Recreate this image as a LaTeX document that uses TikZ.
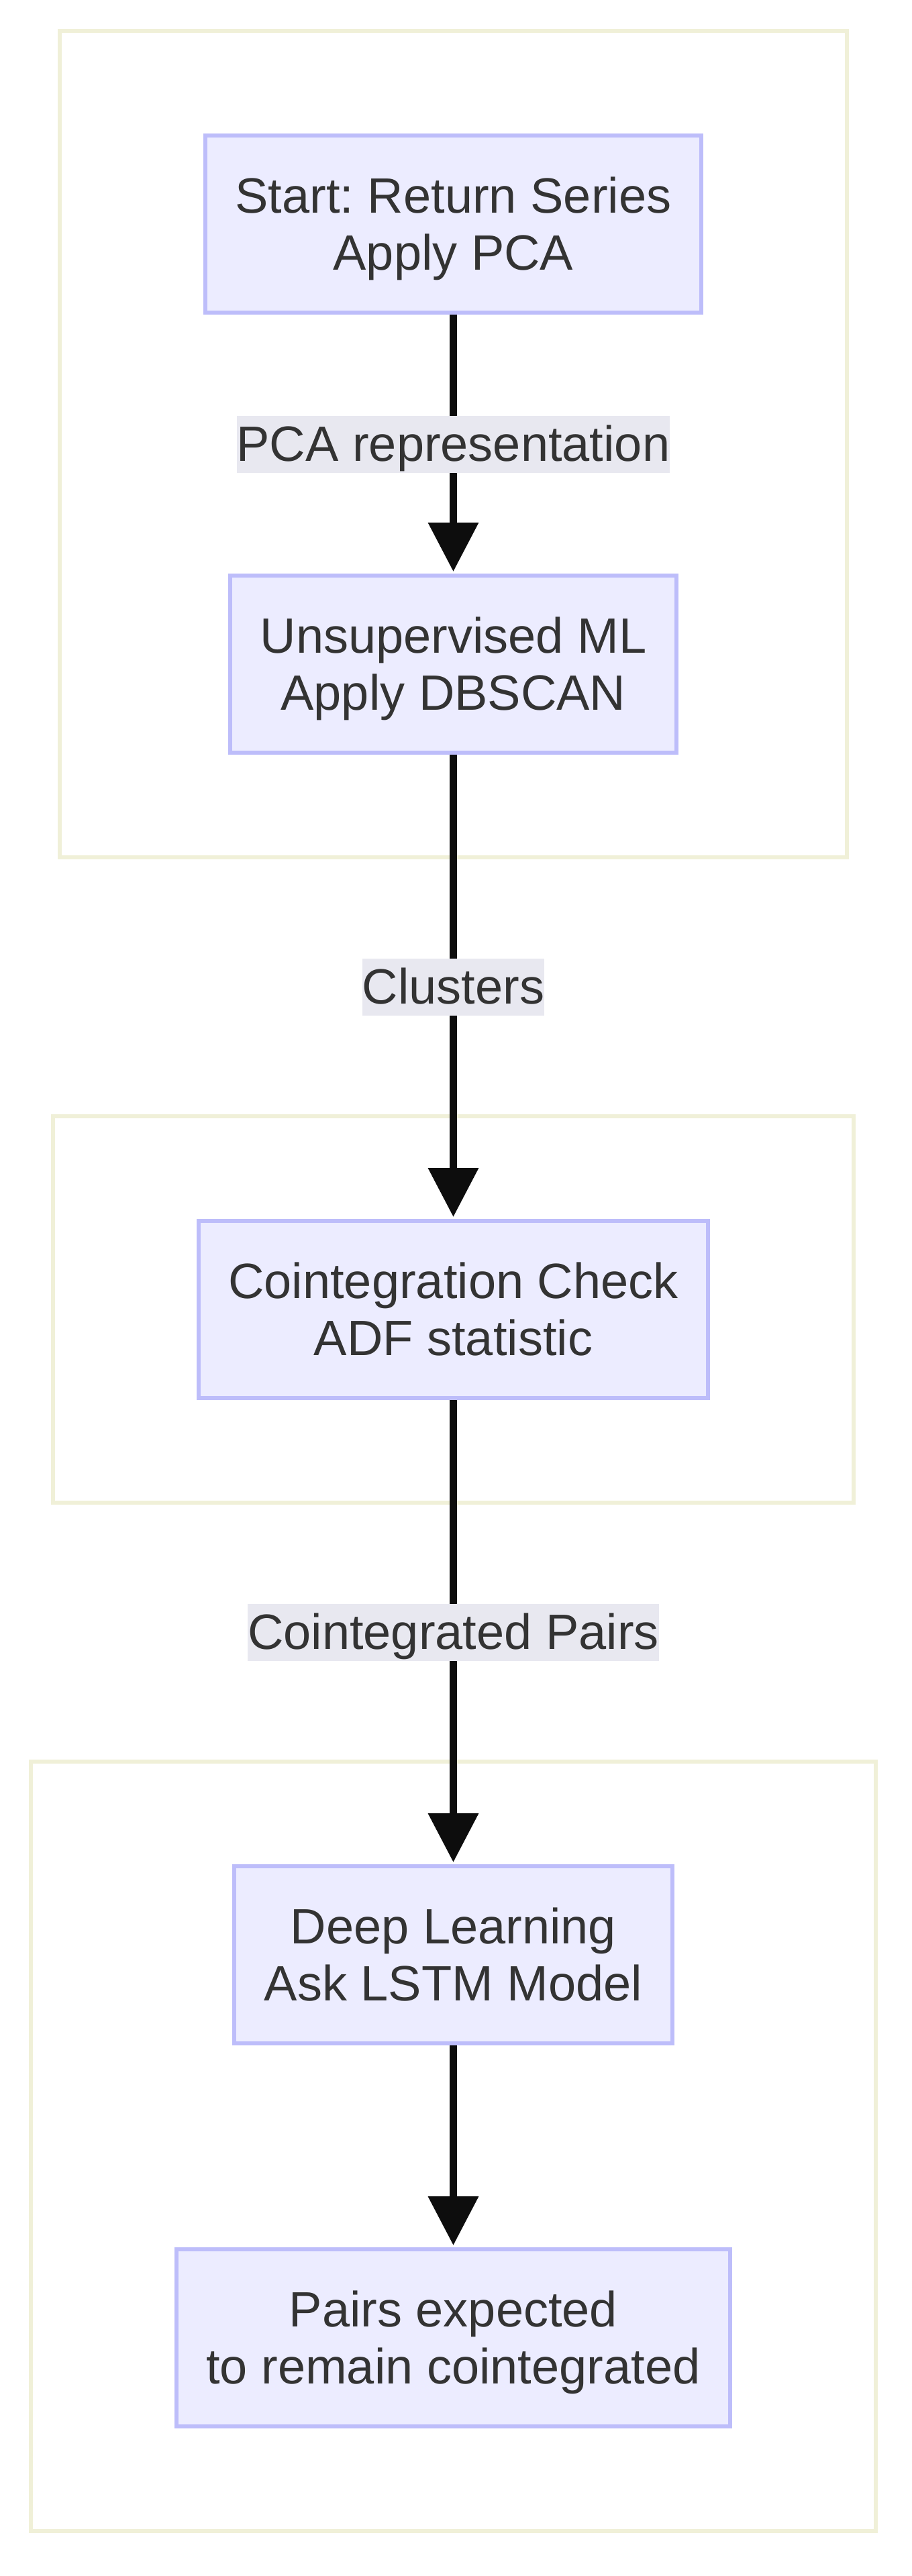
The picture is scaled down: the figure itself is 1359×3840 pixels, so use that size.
\documentclass[tikz,border=0pt]{standalone}
\usepackage{fontspec}
\setmainfont{Liberation Sans}
\usepackage{xcolor}
\usetikzlibrary{arrows.meta, fit, positioning}
\frenchspacing
\definecolor{stagefill}{HTML}{ECECFF}
\definecolor{stageline}{HTML}{BDBDFA}
\definecolor{groupline}{HTML}{F0F0D8}
\definecolor{labelfill}{HTML}{E8E8F0}
\definecolor{textgray}{HTML}{333333}
\definecolor{arrowblack}{HTML}{0D0D0D}
\newcommand{\mstrut}{\rule[-16.8pt]{0pt}{85pt}}
\tikzstyle{stage}=[rectangle, draw=stageline, fill=stagefill, line width=6pt, text=textgray, align=center, inner xsep=44.5pt, inner ysep=0pt, minimum height=264pt, font=\fontsize{74}{85}\selectfont]
\newcommand{\stage}{\node[stage]}
\tikzstyle{group}=[rectangle, draw=groupline, line width=6pt, inner xsep=214pt, inner ysep=153pt]
\tikzstyle{flow}=[-{Triangle[width=73pt,length=73pt]}, line width=10.5pt, draw=arrowblack, shorten >=3pt]
\tikzstyle{edgelabel}=[fill=labelfill, text=textgray, inner xsep=0pt, inner ysep=0pt, font=\fontsize{74}{85}\selectfont]

\begin{document}
\begin{tikzpicture}[x=1pt, y=-1pt]
\useasboundingbox (0,0) rectangle (1359,3840);
\stage (start) at (675.5,334) {\mstrut Start: Return Series\\\mstrut Apply PCA};
\stage (dbscan) at (675.5,990) {\mstrut Unsupervised ML\\\mstrut Apply DBSCAN};
\stage (coint) at (675.5,1952) {\mstrut Cointegration Check\\\mstrut ADF statistic};
\stage (lstm) at (675.5,2914) {\mstrut Deep Learning\\\mstrut Ask LSTM Model};
\stage (pairs) at (675.5,3485) {\mstrut Pairs expected\\\mstrut to remain cointegrated};
% groups
\node[group, fit=(start) (dbscan)] (ml) {};
\node[group, fit=(coint)] (stats) {};
\node[group, fit=(lstm) (pairs)] (deep) {};
% flow
\draw[flow] (start) -- node[edgelabel]{\mstrut PCA representation} (dbscan);
\draw[flow] (dbscan) -- node[edgelabel]{\mstrut Clusters} (coint);
\draw[flow] (coint) -- node[edgelabel]{\mstrut Cointegrated Pairs} (lstm);
\draw[flow] (lstm) -- (pairs);
\end{tikzpicture}
\end{document}
